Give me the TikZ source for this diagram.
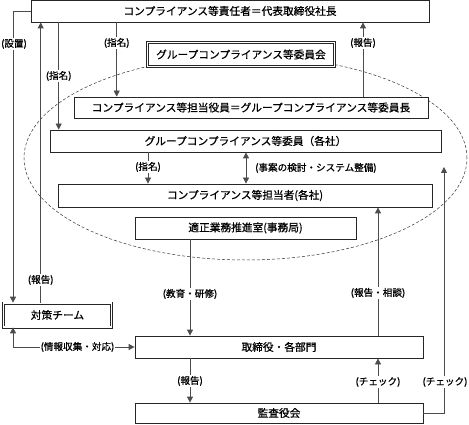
\documentclass[tikz,border=0pt]{standalone}
\usepackage{fontspec}
\setmainfont{Noto Sans CJK JP}[FakeBold=0.6]
\usetikzlibrary{arrows.meta}
\begin{document}
\begin{tikzpicture}[x=1pt,y=-1pt,
  box/.style={draw=black!85, line width=0.8pt, fill=white, inner sep=0pt, font=\fontsize{10.7}{12}\selectfont},
  dbox/.style={box, double=white, double distance=1.6pt, line width=0.7pt},
  arr/.style={draw=black!70, line width=0.8pt, -{Triangle[length=6pt,width=6pt]}},
  darr/.style={draw=black!70, line width=0.8pt, {Triangle[length=6pt,width=6pt]}-{Triangle[length=6pt,width=6pt]}},
  lbl/.style={fill=white, inner sep=1pt, font=\fontsize{9.6}{10}\selectfont},
  grp/.style={draw=black!80, line width=0.5pt, dash pattern=on 3pt off 2pt}]
\useasboundingbox (0,0) rectangle (469,425);

% dashed group outline
\draw[grp] (245.5,158) ellipse [x radius=221.5pt, y radius=102pt];

% boxes
\node[box, minimum width=398pt, minimum height=22pt] (top) at (230,11) {コンプライアンス等責任者＝代表取締役社長};
\node[dbox, minimum width=187pt, minimum height=24pt] (iinkai) at (241,54.5) {グループコンプライアンス等委員会};
\node[box, minimum width=354pt, minimum height=21pt] (yakuin) at (251,107.5) {コンプライアンス等担当役員＝グループコンプライアンス等委員長};
\node[box, minimum width=391pt, minimum height=22pt] (iin) at (245.5,141) {グループコンプライアンス等委員（各社）};
\node[box, minimum width=374pt, minimum height=23pt] (tanto) at (245,195.5) {コンプライアンス等担当者(各社)};
\node[box, minimum width=221pt, minimum height=22pt] (jimu) at (245.5,228) {適正業務推進室(事務局)};
\node[dbox, minimum width=108pt, minimum height=24pt] (taisaku) at (57.5,315) {対策チーム};
\node[box, minimum width=288pt, minimum height=22pt] (tori) at (279,347) {取締役・各部門};
\node[box, minimum width=288pt, minimum height=20pt] (kansa) at (279,413) {監査役会};

% x positions of vertical connectors
\coordinate (xS) at (13,0);
\coordinate (xR) at (40.7,0);
\coordinate (xN1) at (58.7,0);
\coordinate (xN2) at (116.7,0);
\coordinate (xH) at (363,0);
\coordinate (xN3) at (148,0);
\coordinate (xD) at (246,0);
\coordinate (xE) at (190,0);
\coordinate (xK) at (378,0);
\coordinate (cEnd) at (444,167);

% connectors
\draw[arr] (top.west) -| (taisaku.north -| xS);
\draw[arr] (taisaku.north -| xR) -- (top.south -| xR);
\draw[arr] (top.south -| xN1) -- (iin.north -| xN1);
\draw[arr] (top.south -| xN2) -- (yakuin.north -| xN2);
\draw[arr] (yakuin.north -| xH) -- (top.south -| xH);
\draw[arr] (iin.south -| xN3) -- (tanto.north -| xN3);
\draw[darr] (iin.south -| xD) -- (tanto.north -| xD);
\draw[arr] (tori.north -| xK) -- (tanto.south -| xK);
\draw[arr] (kansa.east) -| (cEnd);
\draw[arr] (kansa.north -| xK) -- (tori.south -| xK);
\draw[arr] (jimu.south -| xE) -- (tori.north -| xE);
\draw[arr] (tori.south -| xE) -- (kansa.north -| xE);
\draw[darr] (taisaku.south -| xS) |- (tori.west);

% labels
\node[lbl] (l1) at (14,44) {(設置)};
\node[lbl] (l2) at (40.7,280) {(報告)};
\node[lbl] (l3) at (58.7,76) {(指名)};
\node[lbl] (l4) at (116.7,43) {(指名)};
\node[lbl] (l5) at (363,43) {(報告)};
\node[lbl] (l6) at (148,167) {(指名)};
\node[lbl, anchor=west] (l7) at (254,168) {(事案の検討・システム整備)};
\node[lbl] (l8) at (378,293) {(報告・相談)};
\node[lbl] (l9) at (445,382) {(チェック)};
\node[lbl] (l10) at (378,382) {(チェック)};
\node[lbl] (l11) at (190,294) {(教育・研修)};
\node[lbl] (l12) at (190,381) {(報告)};
\node[lbl] (l13) at (77.5,347) {(情報収集・対応)};
\end{tikzpicture}
\end{document}
